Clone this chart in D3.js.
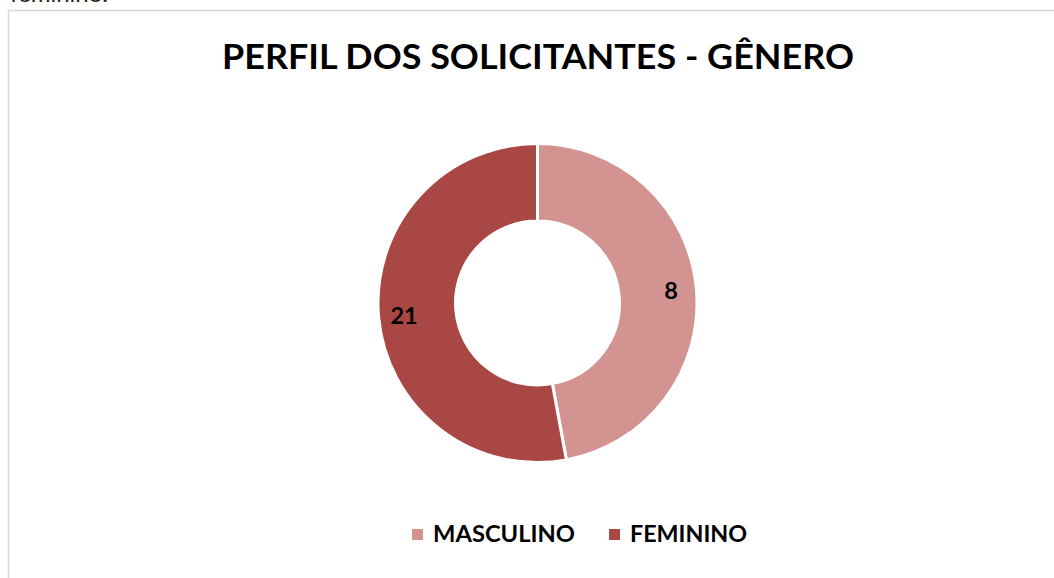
<!DOCTYPE html>
<html>
<head>
<meta charset="utf-8">
<script src="https://cdn.jsdelivr.net/npm/d3@7"></script>
<style>
  html, body { margin: 0; padding: 0; background: #fff; overflow: hidden; }
  svg { display: block; }
  text { font-family: Lato, "Open Sans", sans-serif; }
</style>
</head>
<body>
<div id="chart"></div>
<script>
const width = 1054;
const height = 578;

// categories, labels shown on the slices, and the slice shares as drawn in the picture
const categories = ["MASCULINO", "FEMININO"];
const labelValues = [8, 21];
const sliceShares = [47.1, 52.9];
const colors = ["#d39391", "#a94745"];

const data = categories.map((c, i) => ({ name: c, label: labelValues[i], share: sliceShares[i] }));

const svg = d3.select("#chart")
    .append("svg")
    .attr("width", width)
    .attr("height", height);

// text cut off above the chart box (it is cut off in the source too)
svg.append("text")
    .attr("x", 10)
    .attr("y", 2)
    .attr("font-size", 24)
    .attr("fill", "#222")
    .text("feminino.");

// chart frame (runs past the right and bottom edges)
svg.append("rect")
    .attr("x", 8.5)
    .attr("y", 10.5)
    .attr("width", 1100)
    .attr("height", 700)
    .attr("fill", "#fff")
    .attr("stroke", "#d9d9d9")
    .attr("stroke-width", 1.5);

const title = svg.append("text")
    .attr("x", 538)
    .attr("y", 69)
    .attr("text-anchor", "middle")
    .attr("font-size", 33.5)
    .attr("font-weight", 700)
    .attr("fill", "#000")
    .text("PERFIL DOS SOLICITANTES - GÊNERO");
fitWidth(title, 632);

const cx = 537.5, cy = 303;
const outerR = 159.5, innerR = 82;

const pie = d3.pie().sort(null).value(d => d.share);
const arc = d3.arc().innerRadius(innerR).outerRadius(outerR);
const labelArc = d3.arc().innerRadius(134).outerRadius(134);

const g = svg.append("g").attr("transform", `translate(${cx},${cy})`);
const arcs = pie(data);

g.selectAll("path")
    .data(arcs)
    .enter().append("path")
    .attr("d", arc)
    .attr("fill", (d, i) => colors[i])
    .attr("stroke", "#fff")
    .attr("stroke-width", 3);

g.selectAll(".lbl")
    .data(arcs)
    .enter().append("text")
    .attr("class", "lbl")
    .attr("transform", d => {
        const [x, y] = labelArc.centroid(d);
        return `translate(${x},${y})`;
    })
    .attr("text-anchor", "middle")
    .attr("dy", "0.36em")
    .attr("font-size", 23.5)
    .attr("font-weight", 700)
    .attr("fill", "#000")
    .text(d => d.data.label);

// legend
const legendX = [412, 609];
const legend = svg.selectAll(".legend")
    .data(data)
    .enter().append("g")
    .attr("class", "legend")
    .attr("transform", (d, i) => `translate(${legendX[i]},529)`);

legend.append("rect")
    .attr("width", 11)
    .attr("height", 11)
    .attr("fill", (d, i) => colors[i]);

const legendWidths = [142, 119];
legend.append("text")
    .attr("x", 21)
    .attr("y", 12.5)
    .attr("font-size", 23.3)
    .attr("font-weight", 700)
    .attr("fill", "#000")
    .text(d => d.name)
    .each(function(d, i) { fitWidth(d3.select(this), legendWidths[i]); });

function fitWidth(sel, target) {
    const w = sel.node().getComputedTextLength();
    if (Math.abs(w - target) > 2) {
        sel.attr("textLength", target).attr("lengthAdjust", "spacingAndGlyphs");
    }
}
</script>
</body>
</html>
